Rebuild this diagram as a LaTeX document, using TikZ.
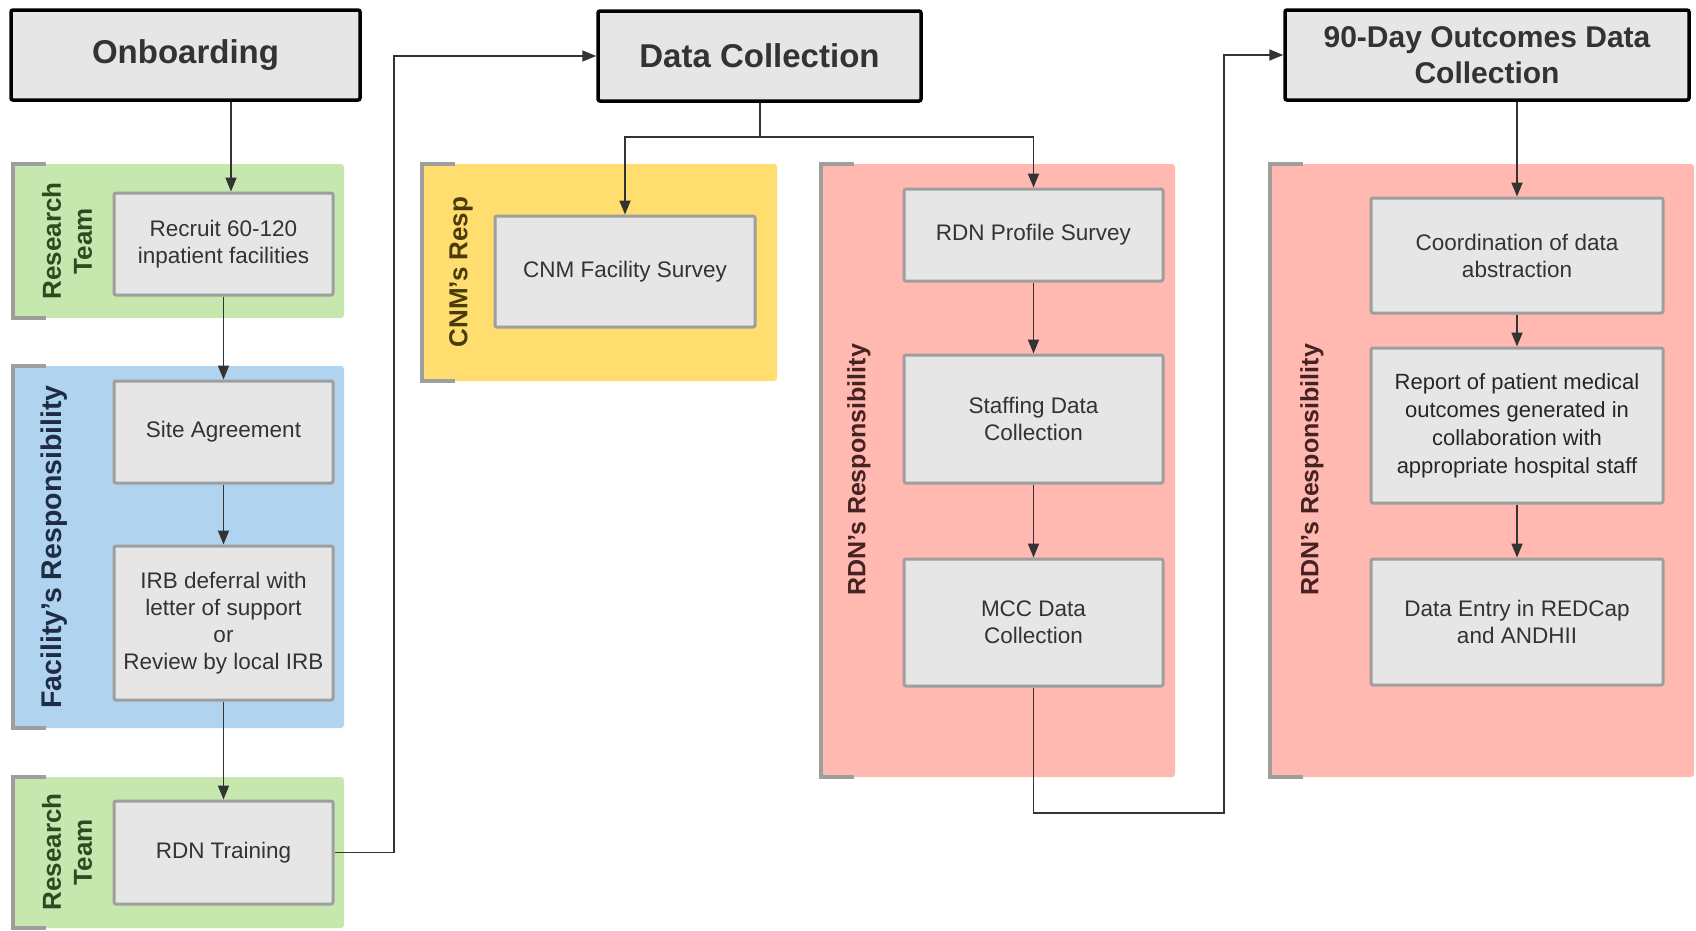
\documentclass[tikz,border=0pt]{standalone}
\usepackage{fontspec}
\setmainfont{Liberation Sans}[Ligatures=ResetAll]
\usetikzlibrary{arrows.meta}
\definecolor{lgreen}{HTML}{C6E8AE}
\definecolor{lblue}{HTML}{B0D4F0}
\definecolor{lyellow}{HTML}{FFDD6E}
\definecolor{lpink}{HTML}{FFB9B0}
\definecolor{boxfill}{HTML}{E6E6E6}
\definecolor{boxline}{HTML}{9E9E9E}
\definecolor{ink}{HTML}{333333}
\definecolor{gtext}{HTML}{2E4A20}
\definecolor{btext}{HTML}{1E2D44}
\definecolor{ytext}{HTML}{4A3A0C}
\definecolor{ptext}{HTML}{472222}
\newcommand\drawlane[5]{%
  \fill[#5, rounded corners=3pt] (#1,#2) rectangle (#3,#4);
  \draw[boxline, line width=4pt] (#1+35,#2) -- (#1+2,#2) -- (#1+2,#4) -- (#1+35,#4);}
\begin{document}
\begin{tikzpicture}[x=1pt,y=-1pt,
  titlebox/.style={draw=black, line width=3.5pt, fill=boxfill, rounded corners=2pt,
    font=\fontsize{33}{38}\selectfont\bfseries, text=ink, align=center, inner sep=0pt},
  stepbox/.style={draw=boxline, line width=3pt, fill=boxfill, rounded corners=2pt,
    font=\fontsize{22.5}{27}\selectfont, text=ink, align=center, inner sep=0pt},
  lanelabel/.style={rotate=90, font=\fontsize{26}{31}\selectfont\bfseries, align=center, inner sep=0pt},
  conn/.style={draw=ink, line width=1.8pt},
  arr/.style={conn, -{Triangle[length=14pt,width=11pt]}},
]
\useasboundingbox (0,0) rectangle (1696,930);
\fill[white] (0,0) rectangle (1696,930);

% lanes
\drawlane{11}{164}{344}{318}{lgreen}
\drawlane{11}{366}{344}{728}{lblue}
\drawlane{11}{777}{344}{928}{lgreen}
\drawlane{420}{164}{777}{381}{lyellow}
\drawlane{819}{164}{1175}{777}{lpink}
\drawlane{1268}{164}{1694}{777}{lpink}

\node[lanelabel, text=gtext] (lab1) at (67,241) {Research\\Team};
\node[lanelabel, text=btext, font=\fontsize{28.5}{33}\selectfont\bfseries] (lab2) at (54,547) {Facility's Responsibility};
\node[lanelabel, text=gtext] (lab3) at (67,852) {Research\\Team};
\node[lanelabel, text=ytext] (lab4) at (461,272) {CNM's Resp};
\node[lanelabel, text=ptext, font=\fontsize{25}{30}\selectfont\bfseries] (lab5) at (859,470) {RDN's Responsibility};
\node[lanelabel, text=ptext, font=\fontsize{25}{30}\selectfont\bfseries] (lab6) at (1312,470) {RDN's Responsibility};

% title boxes
\node[titlebox, minimum width=349pt, minimum height=90pt] (onb) at (185.5,55) {Onboarding};
\node[titlebox, minimum width=323pt, minimum height=90pt] (dc) at (759.5,56) {Data Collection};
\node[titlebox, minimum width=404pt, minimum height=90pt, font=\fontsize{30}{36}\selectfont\bfseries] (ninety) at (1487,55) {90-Day Outcomes Data\\Collection};

% step boxes
\node[stepbox, minimum width=219pt, minimum height=102pt] (recruit) at (223.5,244) {Recruit 60-120\\inpatient facilities};
\node[stepbox, minimum width=219pt, minimum height=102pt] (site) at (223.5,432) {Site Agreement};
\node[stepbox, minimum width=219pt, minimum height=154pt] (irb) at (223.5,623) {IRB deferral with\\letter of support\\or\\Review by local IRB};
\node[stepbox, minimum width=219pt, minimum height=103pt] (training) at (223.5,852.5) {RDN Training};
\node[stepbox, minimum width=260pt, minimum height=111pt] (cnm) at (625,271.5) {CNM Facility Survey};
\node[stepbox, minimum width=259pt, minimum height=92pt] (profile) at (1033.5,235) {RDN Profile Survey};
\node[stepbox, minimum width=259pt, minimum height=128pt] (staffing) at (1033.5,419) {Staffing Data\\Collection};
\node[stepbox, minimum width=259pt, minimum height=127pt] (mcc) at (1033.5,622.5) {MCC Data\\Collection};
\node[stepbox, minimum width=292pt, minimum height=115pt] (coord) at (1517,255.5) {Coordination of data\\abstraction};
\node[stepbox, minimum width=292pt, minimum height=155pt, font=\fontsize{22}{28}\selectfont, text=black!85] (report) at (1517,425.5) {Report of patient medical\\outcomes generated in\\collaboration with\\appropriate hospital staff};
\node[stepbox, minimum width=292pt, minimum height=126pt] (entry) at (1517,622) {Data Entry in REDCap\\and ANDHII};

% connector helpers
\coordinate (c1) at (231,0);
\coordinate (j1) at (394,0);
\coordinate (split) at (760,137);
\coordinate (j2) at (1224,813);

% connectors
\draw[arr] (onb.south -| c1) -- (recruit.north -| c1);
\draw[arr] (recruit.south) -- (site.north);
\draw[arr] (site.south) -- (irb.north);
\draw[arr] (irb.south) -- (training.north);
\draw[arr] (training.east) -- (training.east -| j1) -- (j1 |- dc.west) -- (dc.west);
\draw[conn] (dc.south -| split) -- (split);
\draw[arr] (split) -| (cnm.north);
\draw[arr] (split) -| (profile.north);
\draw[arr] (profile.south) -- (staffing.north);
\draw[arr] (staffing.south) -- (mcc.north);
\draw[arr] (mcc.south) -- (mcc.south |- j2) -- (j2) -- (j2 |- ninety.west) -- (ninety.west);
\draw[arr] (ninety.south -| coord.north) -- (coord.north);
\draw[arr] (coord.south) -- (report.north);
\draw[arr] (report.south) -- (entry.north);
\end{tikzpicture}
\end{document}
